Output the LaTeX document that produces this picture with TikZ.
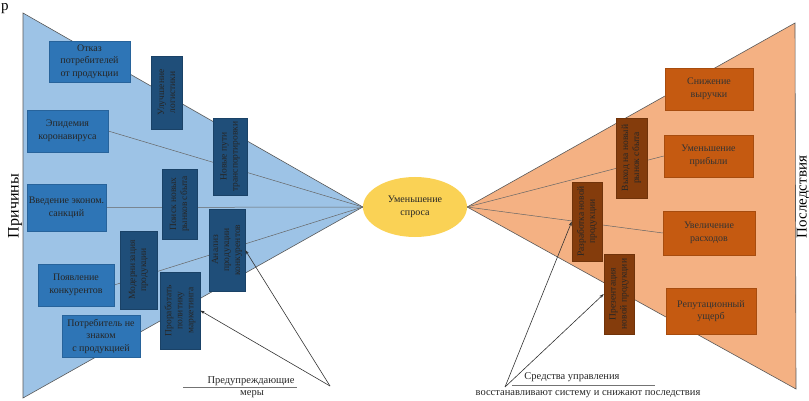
\documentclass[tikz,border=0pt]{standalone}
\usepackage{fontspec}
\setmainfont{Liberation Serif}
\usetikzlibrary{arrows.meta, shapes.geometric, backgrounds}
\definecolor{causetri}{RGB}{157, 195, 230}
\definecolor{causeblue}{RGB}{46, 117, 182}
\definecolor{measureblue}{RGB}{31, 78, 121}
\definecolor{effecttri}{RGB}{244, 177, 131}
\definecolor{effectorange}{RGB}{197, 90, 17}
\definecolor{remedybrown}{RGB}{132, 60, 12}
\definecolor{demandgold}{RGB}{250, 210, 85}

\tikzset{
    causebox/.style={fill=causeblue, draw=causeblue!85!black, align=center, text=black!85, inner sep=1pt, font=\fontsize{10}{12.5}\selectfont},
    measurebox/.style={fill=measureblue, draw=measureblue!85!black, align=center, text=black!85, inner sep=1pt, rotate=90, font=\fontsize{9.5}{11}\selectfont},
    effectbox/.style={fill=effectorange, draw=effectorange!85!black, align=center, text=black!80, inner sep=1pt, font=\fontsize{10}{12.5}\selectfont},
    remedybox/.style={fill=remedybrown, draw=remedybrown!85!black, align=center, text=black!85, inner sep=1pt, rotate=90, font=\fontsize{9.5}{11}\selectfont},
    ray/.style={draw=black!60, line width=0.5pt},
    pointer/.style={-{Stealth[length=4.5pt, width=3pt]}, black!80, line width=0.6pt},
    caption/.style={font=\fontsize{10.5}{12}\selectfont, text=black!85, inner sep=0pt}
}

\begin{document}
\begin{tikzpicture}[x=1pt, y=-1pt]
    \useasboundingbox (0,0) rectangle (809,401);

    % centre
    \node[ellipse, fill=demandgold, minimum width=104, minimum height=60, align=center, font=\fontsize{10}{12.5}\selectfont, text=black!85, inner sep=0pt] (demand) at (415,207) {Уменьшение\\спроса};

    % causes (left)
    \node[causebox, minimum width=81, minimum height=41] (refusal) at (89.5,61.5) {Отказ\\потребителей\\от продукции};
    \node[causebox, minimum width=81, minimum height=42] (epidemic) at (67.5,131) {Эпидемия\\коронавируса};
    \node[causebox, minimum width=79, minimum height=47] (sanctions) at (66.5,207.5) {Введение эконом.\\санкций};
    \node[causebox, minimum width=76, minimum height=42] (rivals) at (76,285) {Появление\\конкурентов};
    \node[causebox, minimum width=78, minimum height=42] (unaware) at (101,336) {Потребитель не\\знаком\\с продукцией};

    % preventive measures (rotated: south = right side)
    \node[measurebox, minimum width=73, minimum height=31] (logistics) at (166.5,92.5) {Улучшение\\логистики};
    \node[measurebox, minimum width=77, minimum height=34] (routes) at (230,156.5) {Новые пути\\транспортировки};
    \node[measurebox, minimum width=70, minimum height=35] (markets) at (179.5,204) {Поиск новых\\рынков сбыта};
    \node[measurebox, minimum width=82, minimum height=36] (analysis) at (227,250) {Анализ\\продукции\\конкурентов};
    \node[measurebox, minimum width=78, minimum height=37] (upgrade) at (138.5,270) {Модернизация\\продукции};
    \node[measurebox, minimum width=77, minimum height=40] (marketing) at (180,310.5) {Проработать\\политику\\маркетинга};

    % effects (right)
    \node[effectbox, minimum width=88, minimum height=42] (revenue) at (709,89) {Снижение\\выручки};
    \node[effectbox, minimum width=89, minimum height=42] (profit) at (708.5,156) {Уменьшение\\прибыли};
    \node[effectbox, minimum width=92, minimum height=44] (costs) at (709,233) {Увеличение\\расходов};
    \node[effectbox, minimum width=90, minimum height=46] (reputation) at (711,311) {Репутационный\\ущерб};

    % control measures (rotated: north = left side)
    \node[remedybox, minimum width=80, minimum height=31] (newmarket) at (631.5,158) {Выход на новый\\рынок сбыта};
    \node[remedybox, minimum width=79, minimum height=30] (newproduct) at (587,221.5) {Разработка новой\\продукции};
    \node[remedybox, minimum width=80, minimum height=30] (showcase) at (619,294) {Презентация\\новой продукции};

    \coordinate (ltop) at (23,13);
    \coordinate (lbot) at (23,398);
    \coordinate (rtop) at (795,23);
    \coordinate (rbot) at (796,389);

    \begin{pgfonlayer}{background}
        \draw[fill=causetri, draw=black!65, line width=0.6pt] (ltop) -- (demand.west) -- (lbot) -- cycle;
        \draw[fill=effecttri, draw=black!65, line width=0.6pt] (rtop) -- (demand.east) -- (rbot) -- cycle;
        \draw[ray] (demand.west) -- (epidemic.east);
        \draw[ray] (demand.west) -- (sanctions.east);
        \draw[ray] (demand.west) -- (rivals.east);
        \draw[ray] (demand.east) -- (profit.west);
        \draw[ray] (demand.east) -- (costs.west);
    \end{pgfonlayer}

    % captions
    \node[caption] (prevtext) at (251,381) {Предупреждающие};
    \node[caption] (prevtext2) at (252,394) {меры};
    \draw[black!55] (183,387.5) -- (297,387.5);
    \coordinate (prevent) at (330,386);
    \draw[pointer] (prevent) -- (analysis.south);
    \draw[pointer] (prevent) -- (marketing.south);

    \node[caption] (ctrltext) at (572,377) {Средства управления};
    \node[caption] (ctrltext2) at (588,394) {восстанавливают систему и снижают последствия};
    \draw[black!55] (512,385.5) -- (655,385.5);
    \coordinate (control) at (505,387);
    \draw[pointer] (control) -- (newproduct.north);
    \draw[pointer] (control) -- (showcase.north);

    \node[rotate=90, font=\fontsize{16}{16}\selectfont, inner sep=0pt] (causes) at (15,206) {Причины};
    \node[rotate=90, font=\fontsize{15}{15}\selectfont, inner sep=0pt, anchor=north] (effects) at (796.5,197) {Последствия};
    \node[font=\fontsize{15}{15}\selectfont, inner sep=0pt, text height=7pt, anchor=base west] (stray) at (1,10.5) {р};
\end{tikzpicture}
\end{document}
